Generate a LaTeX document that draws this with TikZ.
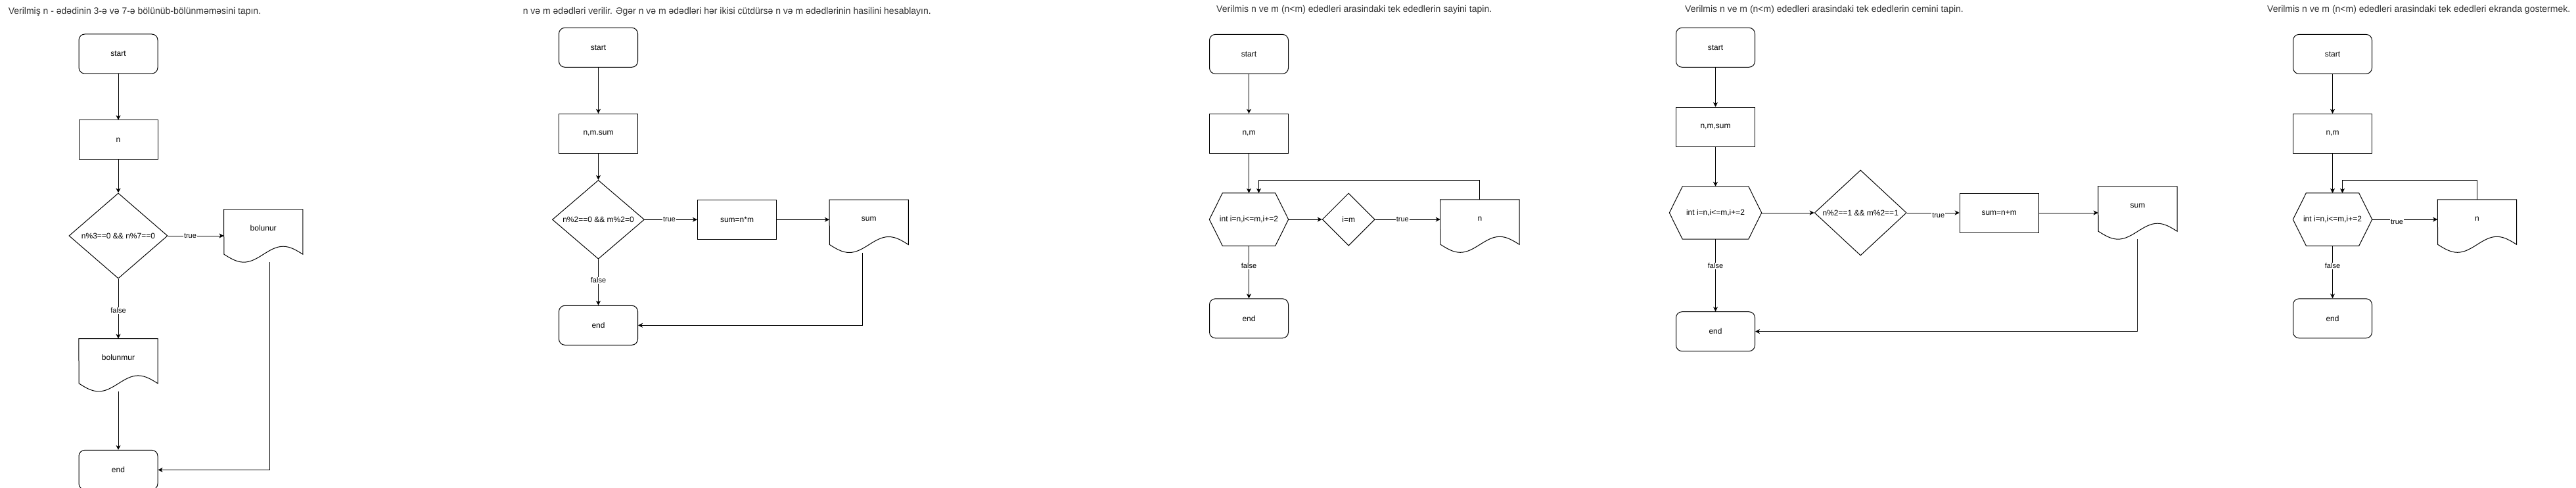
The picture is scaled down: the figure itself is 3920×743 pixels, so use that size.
\documentclass[tikz,border=0pt]{standalone}
\usepackage{fontspec}
\setmainfont{Liberation Sans}
\usetikzlibrary{arrows.meta,positioning,shapes.geometric}
\newcommand{\nodefont}{\fontsize{12}{14}\selectfont}
\newcommand{\lblfont}{\fontsize{11}{13}\selectfont}
\newcommand{\titlefont}{\fontsize{14}{16}\selectfont}
\newcommand{\docoutline}[1]{%
  \draw[outline] (#1.north west) -- (#1.north east) -- ([yshift=12pt]#1.south east)
    sin ++(-30,-12) cos ++(-30,12) sin ++(-30,12) cos ++(-30,-12) -- cycle;}
\newcommand{\hexoutline}[1]{%
  \draw[outline] ([xshift=20pt]#1.north west) -- ([xshift=-20pt]#1.north east) -- (#1.east)
    -- ([xshift=-20pt]#1.south east) -- ([xshift=20pt]#1.south west) -- (#1.west) -- cycle;}

\begin{document}
\begin{tikzpicture}[x=1pt, y=-1pt,
  term/.style={draw, line width=1pt, rounded corners=9pt, minimum width=120pt, minimum height=60pt, font=\nodefont},
  proc/.style={draw, line width=1pt, minimum width=120pt, minimum height=60pt, font=\nodefont},
  cond/.style={draw, line width=1pt, diamond, inner sep=0pt, font=\nodefont},
  doc/.style={minimum width=120pt, minimum height=80pt, inner sep=0pt, text height=9pt, text depth=24pt, font=\nodefont},
  loopbox/.style={minimum height=80pt, inner sep=0pt, font=\nodefont},
  outline/.style={draw, line width=1pt},
  arrow/.style={-{Stealth[length=7pt, width=7pt, inset=2pt]}, line width=1pt},
  lbl/.style={fill=white, inner sep=1pt, font=\lblfont},
  title/.style={anchor=west, inner sep=0pt, text=black!80, font=\titlefont}
]
\useasboundingbox (0,0) rectangle (3920,743);

% chart A
\node[title] (titleA) at (12.6,17.5) {Verilmiş n - ədədinin 3-ə və 7-ə bölünüb-bölünməməsini tapın.};
\node[term] (startA) at (180,82) {start};
\node[proc, below=70pt of startA] (inA) {n};
\node[cond, minimum width=150pt, minimum height=130pt, below=50pt of inA] (condA) {n\%3==0 \&\& n\%7==0};
\node[doc, right=85pt of condA] (yesA) {bolunur};
\node[doc, below=91pt of condA] (noA) {bolunmur};
\node[term, below=89pt of noA] (endA) {end};
\docoutline{yesA}
\docoutline{noA}
\draw[arrow] (startA) -- (inA);
\draw[arrow] (inA) -- (condA);
\draw[arrow] (condA) -- node[lbl, pos=0.4] {true} (yesA);
\draw[arrow] (condA) -- node[lbl, pos=0.53] {false} (noA);
\draw[arrow] (noA) -- (endA);
\draw[arrow] ([xshift=10pt]yesA.south) |- (endA.east);

% chart B
\node[title] (titleB) at (795.6,17.5) {n və m ədədləri verilir. Əgər n və m ədədləri hər ikisi cütdürsə n və m ədədlərinin hasilini hesablayın.};
\node[term] (startB) at (910.5,72.3) {start};
\node[proc, below=70pt of startB] (inB) {n,m.sum};
\node[cond, minimum width=140pt, minimum height=120pt, below=40pt of inB] (condB) {n\%2==0 \&\& m\%2=0};
\node[proc, right=80pt of condB] (calcB) {sum=n*m};
\node[doc, right=80pt of calcB, yshift=-10pt] (outB) {sum};
\node[term, below=70pt of condB] (endB) {end};
\docoutline{outB}
\draw[arrow] (startB) -- (inB);
\draw[arrow] (inB) -- (condB);
\draw[arrow] (condB) -- node[lbl, pos=0.47] {true} (calcB);
\draw[arrow] (calcB) -- (calcB.east -| outB.west);
\draw[arrow] (condB) -- node[lbl, pos=0.46] {false} (endB);
\draw[arrow] ([xshift=-10pt]outB.south) |- (endB.east);

% chart C
\node[title] (titleC) at (1851,15.3) {Verilmis n ve m (n<m) ededleri arasindaki tek ededlerin sayini tapin.};
\node[term] (startC) at (1900.5,82.4) {start};
\node[proc, below=60pt of startC] (inC) {n,m};
\node[loopbox, minimum width=120pt, below=60pt of inC] (loopC) {int i=n,i<=m,i+=2};
\node[cond, minimum width=80pt, minimum height=80pt, right=51pt of loopC] (condC) {i=m};
\node[doc, right=99pt of condC, yshift=-10pt] (outC) {n};
\node[term, below=80pt of loopC] (endC) {end};
\hexoutline{loopC}
\docoutline{outC}
\draw[arrow] (startC) -- (inC);
\draw[arrow] (inC) -- (loopC);
\draw[arrow] (loopC) -- (condC);
\draw[arrow] (condC) -- node[lbl, pos=0.42] {true} (condC.east -| outC.west);
\draw[arrow] (loopC) -- node[lbl, pos=0.38] {false} (endC);
\draw[arrow] (outC.north) -- ++(0,-29.5) -| ([xshift=15pt]loopC.north);

% chart D
\node[title] (titleD) at (2564,15) {Verilmis n ve m (n<m) ededleri arasindaki tek ededlerin cemini tapin.};
\node[term] (startD) at (2610.5,72.3) {start};
\node[proc, below=60pt of startD] (inD) {n,m,sum};
\node[loopbox, minimum width=140pt, below=60pt of inD] (loopD) {int i=n,i<=m,i+=2};
\node[cond, minimum width=140pt, minimum height=130pt, right=80pt of loopD] (condD) {n\%2==1 \&\& m\%2==1};
\node[proc, right=80pt of condD] (calcD) {sum=n+m};
\node[doc, right=90pt of calcD] (outD) {sum};
\node[term, below=110pt of loopD] (endD) {end};
\hexoutline{loopD}
\docoutline{outD}
\draw[arrow] (startD) -- (inD);
\draw[arrow] (inD) -- (loopD);
\draw[arrow] (loopD) -- (condD);
\draw[arrow] (condD) -- node[lbl, pos=0.6, yshift=-4pt] {true} (calcD);
\draw[arrow] (calcD) -- (outD);
\draw[arrow] (loopD) -- node[lbl, pos=0.37] {false} (endD);
\draw[arrow] (outD.south) |- (endD.east);

% chart E
\node[title] (titleE) at (3450,15.3) {Verilmis n ve m (n<m) ededleri arasindaki tek ededleri ekranda gostermek.};
\node[term] (startE) at (3549.5,82.4) {start};
\node[proc, below=60pt of startE] (inE) {n,m};
\node[loopbox, minimum width=120pt, below=60pt of inE] (loopE) {int i=n,i<=m,i+=2};
\node[doc, right=99.5pt of loopE, yshift=-10pt] (outE) {n};
\node[term, below=80pt of loopE] (endE) {end};
\hexoutline{loopE}
\docoutline{outE}
\draw[arrow] (startE) -- (inE);
\draw[arrow] (inE) -- (loopE);
\draw[arrow] (loopE) -- node[lbl, pos=0.38, yshift=-4pt] {true} (loopE.east -| outE.west);
\draw[arrow] (loopE) -- node[lbl, pos=0.38] {false} (endE);
\draw[arrow] (outE.north) -- ++(0,-29.5) -| ([xshift=15pt]loopE.north);
\end{tikzpicture}
\end{document}
